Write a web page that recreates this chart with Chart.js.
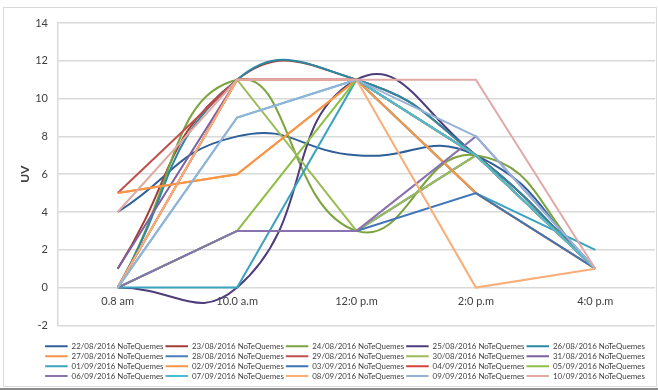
<!DOCTYPE html>
<html>
<head>
<meta charset="utf-8">
<script src="https://cdn.jsdelivr.net/npm/chart.js@4.4.0/dist/chart.umd.min.js"></script>
<style>
  body { margin: 0; background: #fff; overflow: hidden; }
  #wrap { position: relative; width: 658px; height: 390px; }
  #frame { position: absolute; left: 3px; top: 7px; width: 652px; height: 378px; border: 1px solid #d9d9d9; }
  #bar { position: absolute; left: 0; top: 388px; width: 658px; height: 2px; background: #8c8c8c; }
  canvas { position: absolute; left: 0; top: 0; }
</style>
</head>
<body>
<div id="wrap">
  <div id="frame"></div>
  <canvas id="lineChart" width="658" height="390"></canvas>
  <div id="bar"></div>
</div>
<script>
// hours of the day (x axis)
const hours = ['0.8 am', '10.0 a.m', '12:0 p.m', '2:0 p.m', '4:0 p.m'];

// one array per day, UV
const d2208 = [4, 8, 7, 7, 1];
const d2308 = [1, 11, 11, 7, 1];
const d2408 = [0, 11, 3, 7, 1];
const d2508 = [0, 0, 11, 7, 1];
const d2608 = [0, 11, 11, 7, 1];
const d2708 = [5, 6, 11, 5, 1];
const d2808 = [0, 3, 3, 7, 1];
const d2908 = [5, 11, 11, 7, 1];
const d3008 = [0, 11, 3, 7, 1];
const d3108 = [1, 11, 11, 7, 1];
const d0109 = [0, 0, 11, 5, 2];
const d0209 = [5, 6, 11, 5, 1];
const d0309 = [0, 3, 3, 5, 1];
const d0409 = [0, 11, 11, 7, 1];
const d0509 = [0, 3, 11, 7, 1];
const d0609 = [0, 3, 3, 8, 1];
const d0709 = [0, 9, 11, 7, 1];
const d0809 = [0, 11, 11, 0, 1];
const d0909 = [0, 9, 11, 8, 1];
const d1009 = [4, 11, 11, 11, 1];

const days = ['22/08/2016', '23/08/2016', '24/08/2016', '25/08/2016', '26/08/2016',
  '27/08/2016', '28/08/2016', '29/08/2016', '30/08/2016', '31/08/2016',
  '01/09/2016', '02/09/2016', '03/09/2016', '04/09/2016', '05/09/2016',
  '06/09/2016', '07/09/2016', '08/09/2016', '09/09/2016', '10/09/2016'];
const values = [d2208, d2308, d2408, d2508, d2608, d2708, d2808, d2908, d3008, d3108,
  d0109, d0209, d0309, d0409, d0509, d0609, d0709, d0809, d0909, d1009];
const smooth = [true, true, true, true, true, false, false, false, false, false,
  false, false, false, false, false, false, false, false, false, false];
const colors = ['#2f5f98', '#a33b37', '#7ba33e', '#4e3d7a', '#2b8aa3',
  '#f7924a', '#4a7ebb', '#c0504d', '#9bbb59', '#7d60a0',
  '#3aa3be', '#f79646', '#3e74b8', '#d9423e', '#8dbf45',
  '#8a72b0', '#4dbbd5', '#f9ae78', '#95b3d7', '#e0a9a6'];

document.addEventListener("DOMContentLoaded", function() {
    const datasets = days.map((d, i) => ({
        label: d + ' NoTeQuemes',
        data: values[i],
        borderColor: colors[i],
        backgroundColor: colors[i],
        borderWidth: 2,
        pointRadius: 0,
        tension: smooth[i] ? 0.5 : 0,
        order: -i, // later series drawn on top, like excel
    }));

    const ctx = document.getElementById('lineChart').getContext('2d');
    new Chart(ctx, {
        type: 'line',
        data: { labels: hours, datasets: datasets },
        options: {
            responsive: false,
            animation: false,
            devicePixelRatio: 1,
            layout: { padding: { left: 35, right: 3, top: 23, bottom: 0 } },
            scales: {
                x: {
                    position: { y: 0 },
                    offset: true,
                    grid: { display: false, drawTicks: false },
                    border: { display: false },
                    ticks: { padding: 7, color: '#404040', font: { family: 'Lato', size: 11 } },
                },
                y: {
                    min: -2,
                    max: 14,
                    afterFit: function(scale) { scale.width = 23; },
                    ticks: { stepSize: 2, padding: 10, color: '#404040', font: { family: 'Lato', size: 11 } },
                    grid: { color: '#d9d9d9', lineWidth: 1.5, drawTicks: false },
                    border: { display: true, color: '#d9d9d9', width: 1.5 },
                    title: {
                        display: true,
                        text: 'UV',
                        color: '#404040',
                        font: { family: 'Lato', size: 12, weight: 'bold' },
                        padding: { top: -17, bottom: 0 },
                    },
                },
            },
            plugins: {
                legend: {
                    position: 'bottom',
                    title: { display: true, text: '', font: { size: 10 }, padding: { top: 3, bottom: 0 } },
                    labels: {
                        boxWidth: 22.5,
                        boxHeight: 2,
                        padding: 2,
                        color: '#404040',
                        font: { family: 'Lato', size: 7.9 },
                        sort: (a, b) => a.datasetIndex - b.datasetIndex,
                        generateLabels: function(chart) {
                            return Chart.defaults.plugins.legend.labels.generateLabels(chart)
                                .map(l => Object.assign(l, { lineWidth: 0 }));
                        },
                    },
                },
                tooltip: { enabled: false },
            },
        },
    });
});
</script>
</body>
</html>
